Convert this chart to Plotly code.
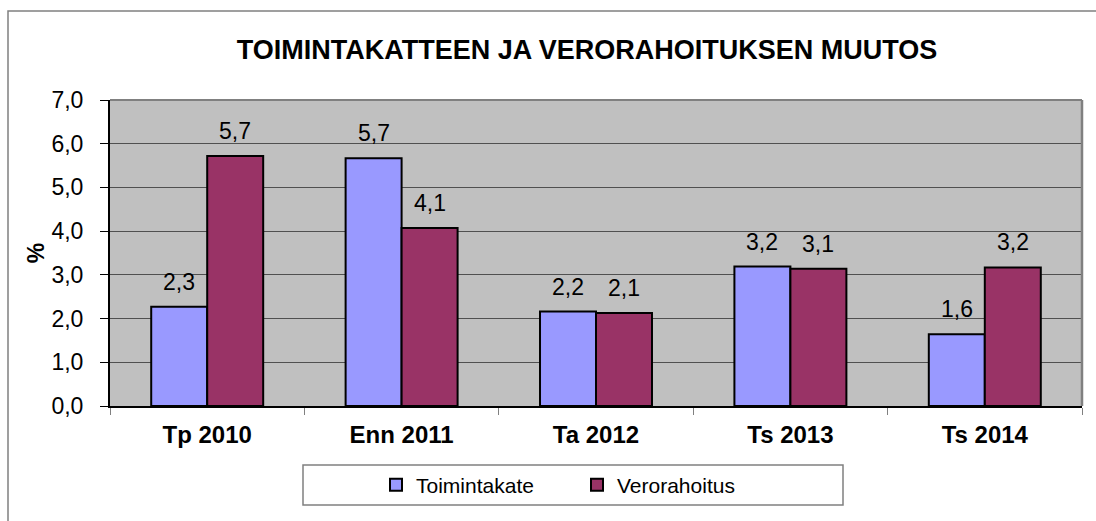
import plotly.graph_objects as go

categories = ["Tp 2010", "Enn 2011", "Ta 2012", "Ts 2013", "Ts 2014"]
toimintakate = [2.27, 5.67, 2.16, 3.19, 1.64]
verorahoitus = [5.72, 4.07, 2.13, 3.14, 3.17]
series_names = ["Toimintakate", "Verorahoitus"]
y_ticks = [0, 1, 2, 3, 4, 5, 6, 7]
title_text = "TOIMINTAKATTEEN JA VERORAHOITUKSEN MUUTOS"

W, H = 1096, 521
L, R, T, B = 110, 14, 100, 115
PW, PH = W - L - R, H - T - B
FONT = "Arial, Liberation Sans, sans-serif"
colors = ["#9999FF", "#993366"]


def px_x(p):
    return (p - L) / PW


def px_y(p):
    return (H - B - p) / PH


fig = go.Figure()
for name, vals, col in zip(series_names, [toimintakate, verorahoitus], colors):
    fig.add_trace(go.Bar(
        x=categories, y=vals, name=name,
        marker=dict(color=col, line=dict(color="black", width=2)),
    ))

bargap = 0.424
bar_px = (1 - bargap) / 2 * PW / len(categories)
annotations = []
for k, vals in enumerate([toimintakate, verorahoitus]):
    shift = (-0.5 if k == 0 else 0.5) * bar_px
    for c, v in zip(categories, vals):
        annotations.append(dict(
            x=c, y=v, xref="x", yref="y", text=f"{v:.1f}".replace(".", ","),
            showarrow=False, xshift=shift, yshift=10, yanchor="bottom",
            font=dict(family=FONT, size=23, color="black"),
        ))

shapes = [
    # outer chart border (clipped at right/bottom)
    dict(type="rect", xref="paper", yref="paper",
         x0=px_x(8), x1=px_x(1100), y0=px_y(530), y1=px_y(11),
         line=dict(color="#808080", width=1.5), fillcolor="rgba(0,0,0,0)", layer="below"),
    # plot area top & right border
    dict(type="line", xref="paper", yref="paper", x0=0, x1=1, y0=1, y1=1,
         line=dict(color="#808080", width=2)),
    dict(type="line", xref="paper", yref="paper", x0=1, x1=1, y0=0, y1=1,
         line=dict(color="#808080", width=2.5)),
    # legend box
    dict(type="rect", xref="paper", yref="paper",
         x0=px_x(303), x1=px_x(843), y0=px_y(505), y1=px_y(465),
         line=dict(color="#808080", width=1.5), fillcolor="rgba(0,0,0,0)"),
]

fig.update_layout(
    width=W, height=H,
    margin=dict(l=L, r=R, t=T, b=B),
    paper_bgcolor="white", plot_bgcolor="#C0C0C0",
    barmode="group", bargap=bargap, bargroupgap=0,
    font=dict(family=FONT, color="black"),
    title=dict(text=f"<b>{title_text}</b>", x=587 / W, xref="container", xanchor="center",
               y=1 - 50 / H, yref="container", yanchor="middle",
               font=dict(family=FONT, size=27, color="black")),
    showlegend=True,
    legend=dict(orientation="h", x=px_x(376), xanchor="left", y=px_y(485), yanchor="middle",
                font=dict(family=FONT, size=21, color="black"),
                bgcolor="rgba(0,0,0,0)", borderwidth=0,
                entrywidth=156, entrywidthmode="pixels"),
    annotations=annotations,
    shapes=shapes,
    separators=", ",
)
fig.update_xaxes(
    showline=True, linecolor="black", linewidth=2,
    ticks="outside", tickson="boundaries", ticklen=7, tickcolor="#808080",
    tickfont=dict(family=FONT, size=24, color="black"),
    tickvals=categories, ticktext=[f"<b>{c}</b>" for c in categories],
    ticklabelstandoff=6, showgrid=False,
)
fig.update_yaxes(
    range=[0, 7], tickvals=y_ticks, ticktext=[f"{v:.1f}".replace(".", ",") for v in y_ticks],
    showline=True, linecolor="black", linewidth=2,
    ticks="outside", ticklen=8, tickcolor="black",
    tickfont=dict(family=FONT, size=23, color="black"),
    ticklabelstandoff=12,
    showgrid=True, gridcolor="#505050", gridwidth=1, zeroline=False,
    title=dict(text="<b>%</b>", font=dict(family=FONT, size=23, color="black"), standoff=0),
)

fig.write_html("out.html", config={"displayModeBar": False},
               post_script="document.body.style.margin='0';document.body.style.overflow='hidden';")
